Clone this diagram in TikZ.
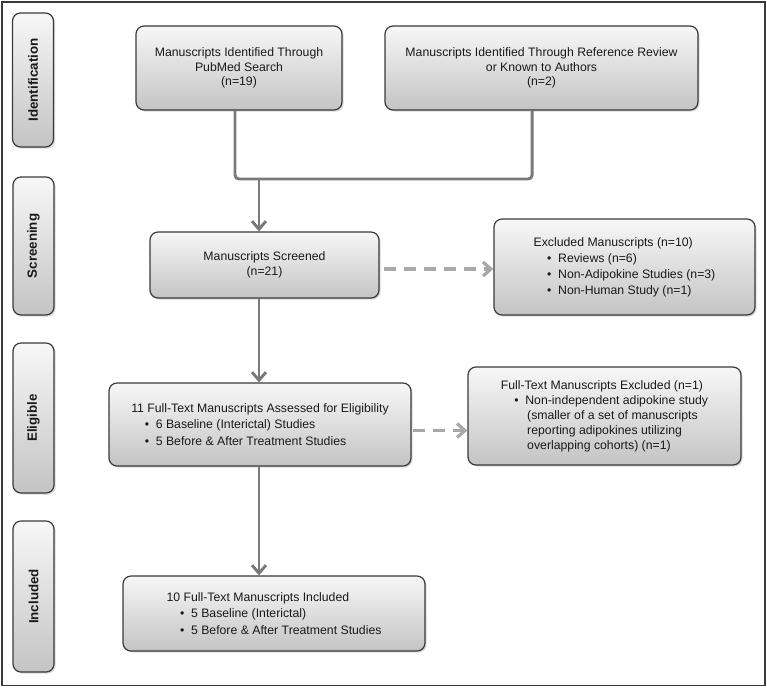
\documentclass[tikz,border=0pt]{standalone}
\usepackage{fontspec}
\setmainfont{Liberation Sans}
\usepackage{xcolor}
\usetikzlibrary{arrows.meta,shadows}

\definecolor{boxline}{HTML}{3A3A3A}
\definecolor{boxtop}{HTML}{F7F7F7}
\definecolor{boxbottom}{HTML}{C4C4C4}
\definecolor{flowgray}{HTML}{7A7A7A}
\definecolor{dashgray}{HTML}{A8A8A8}
\definecolor{txtgray}{HTML}{1A1A1A}

\newcommand{\bitem}[1]{\hspace*{1.1em}\textbullet\hspace{0.55em}#1}
\newcommand{\bcont}[1]{\hspace*{2.15em}#1}

\tikzset{
  flowbox/.style={draw=boxline, line width=0.9pt, rounded corners=6pt,
    top color=boxtop, bottom color=boxbottom, text=txtgray,
    drop shadow={opacity=0.3, shadow xshift=1.2pt, shadow yshift=-1.2pt},
    inner sep=0.75pt, font=\fontsize{9.2}{11}\selectfont},
  stagebox/.style={flowbox, rotate=90, minimum height=30.75pt,
    font=\fontsize{10}{12}\selectfont\bfseries},
  flowline/.style={draw=flowgray, line width=2.2pt, rounded corners=3pt},
  flowarrow/.style={flowline, -{Straight Barb[length=6pt,width=10.5pt,line width=2.2pt]}},
  skiparrow/.style={draw=dashgray, line width=2.4pt, dash pattern=on 9pt off 6pt,
    -{Straight Barb[length=6pt,width=10.5pt,line width=2.4pt]}}
}

\begin{document}
\begin{tikzpicture}[x=0.75pt,y=0.75pt,yscale=-1,xscale=1]
\useasboundingbox (0,0) rectangle (767,687);

%Outer frame
\draw [draw=boxline, line width=1pt] (2,2) rectangle (765,685.5);

%Stage labels
\draw (33,80) node [stagebox, minimum width=100.5pt] (lblid) {Identification};
\draw (33.5,246) node [stagebox, minimum width=103.5pt] (lblscr) {Screening};
\draw (33.5,418) node [stagebox, minimum width=112.5pt] (lblelig) {Eligible};
\draw (33.5,596.5) node [stagebox, minimum width=113.25pt] (lblincl) {Included};

%Identification boxes
\draw (239,68) node [flowbox, minimum width=154.5pt, minimum height=63pt, align=center] (pubmed)
  {Manuscripts Identified Through\\PubMed Search\\(n=19)};
\draw (541.5,68) node [flowbox, minimum width=234.75pt, minimum height=63pt, align=center] (refrev)
  {Manuscripts Identified Through Reference Review\\or Known to Authors\\(n=2)};

%Screening boxes
\draw (264.5,265) node [flowbox, minimum width=171.75pt, minimum height=49.5pt, align=center] (screened)
  {Manuscripts Screened\\(n=21)};
\draw (624.5,267) node [flowbox, minimum width=195.75pt, minimum height=72pt, align=left,
  font=\fontsize{9.2}{12}\selectfont] (excl)
  {Excluded Manuscripts (n=10)\\\bitem{Reviews (n=6)}\\\bitem{Non-Adipokine Studies (n=3)}\\\bitem{Non-Human Study (n=1)}};

%Eligibility boxes
\draw (260,424.5) node [flowbox, minimum width=226.5pt, minimum height=62.25pt, align=left,
  font=\fontsize{9.2}{12.5}\selectfont] (elig)
  {11 Full-Text Manuscripts Assessed for Eligibility\\\bitem{6 Baseline (Interictal) Studies}\\\bitem{5 Before \& After Treatment Studies}};
\draw (604.5,416) node [flowbox, minimum width=204.75pt, minimum height=73.5pt, align=left,
  font=\fontsize{9.2}{11.2}\selectfont] (ftexcl)
  {Full-Text Manuscripts Excluded (n=1)\\\bitem{Non-independent adipokine study}\\\bcont{(smaller of a set of manuscripts}\\\bcont{reporting adipokines utilizing}\\\bcont{overlapping cohorts) (n=1)}};

%Included box
\draw (274,613.5) node [flowbox, minimum width=226.5pt, minimum height=56.25pt, align=left,
  font=\fontsize{9.2}{12.5}\selectfont] (incl)
  {10 Full-Text Manuscripts Included\\\bitem{5 Baseline (Interictal)}\\\bitem{5 Before \& After Treatment Studies}};

%Connectors
\coordinate (junc) at (259,179);
\draw [flowline] ([xshift=-3pt]pubmed.south) |- (junc) -| ([xshift=-7pt]refrev.south);
\draw [flowarrow] (junc) -- (junc |- screened.north);
\draw [flowarrow] (screened.south -| junc) -- (elig.north -| junc);
\draw [flowarrow] (elig.south -| junc) -- (incl.north -| junc);
\draw [skiparrow] ([xshift=3pt,yshift=3pt]screened.east) -- ([yshift=3pt]screened.east -| excl.west);
\draw [skiparrow] ([xshift=1pt,yshift=4.5pt]elig.east) -- ([yshift=4.5pt]elig.east -| ftexcl.west);

\end{tikzpicture}
\end{document}
